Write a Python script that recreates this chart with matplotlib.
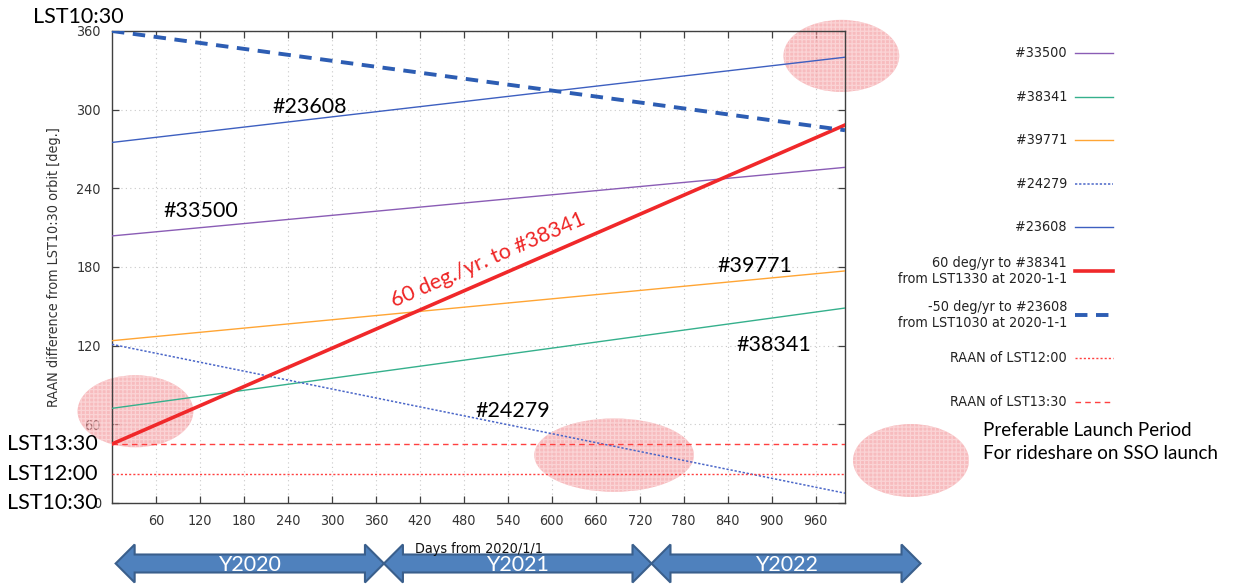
import numpy as np
import matplotlib
matplotlib.use('Agg')
import matplotlib.pyplot as plt
from matplotlib.patches import Ellipse, Polygon
from matplotlib.lines import Line2D
import matplotlib.transforms as mtransforms

# days from 2020/1/1 at both ends of the plotted span
DAYS = [0, 1000]

# RAAN difference from the LST10:30 orbit [deg], at DAYS[0] and DAYS[1]
SAT_NAMES = ['#33500', '#38341', '#39771', '#24279', '#23608']
SAT_RAAN_START = [203.7, 72.2, 123.8, 121.0, 275.0]
SAT_RAAN_END = [256.0, 148.7, 177.0, 7.5, 340.0]

# drift plans starting from LST13:30 / LST10:30
PLAN_LABELS = ['60 deg/yr to #38341\nfrom LST1330 at 2020-1-1',
               '-50 deg/yr to #23608\nfrom LST1030 at 2020-1-1']
PLAN_RAAN_START = [45.0, 360.0]
PLAN_RAAN_END = [288.3, 284.3]

# RAAN of fixed local solar times
LST_LABELS = ['RAAN of LST12:00', 'RAAN of LST13:30']
LST_RAAN = [22.5, 45.0]

# year spans under the time axis (days)
YEAR_NAMES = ['Y2020', 'Y2021', 'Y2022']
YEAR_EDGES = [5, 371, 736, 1103]

# preferable launch windows: centre day, centre RAAN, width (days), height (deg)
WINDOWS = [(32, 70, 158, 55), (685, 36.5, 218, 56), (995, 341, 158, 55)]

W, H = 1246, 584
fig = plt.figure(figsize=(W / 100, H / 100), dpi=100)
plt.rcParams['hatch.linewidth'] = 0.9


def fx(x):
    return x / W


def fy(y):
    return 1 - y / H


ax = fig.add_axes([fx(112), fy(503), fx(845) - fx(112), fy(31) - fy(503)])
ax.set_xlim(0, 1000)
ax.set_ylim(0, 360)

small_font = dict(family='DejaVu Sans', stretch='condensed', size=10.3)
big_font = dict(family=['Lato', 'DejaVu Sans'], size=15.5)
window_style = dict(facecolor='#f28f93', edgecolor='#fde4e5', hatch='++++', lw=0, alpha=0.6)

ax.set_xticks(np.arange(60, 1000, 60))
ax.set_yticks(np.arange(0, 361, 60))
ax.tick_params(direction='in', length=5, width=0.9, colors='#404040',
               top=True, right=True, pad=8)
for lab in ax.get_xticklabels() + ax.get_yticklabels():
    lab.set_fontfamily('DejaVu Sans')
    lab.set_fontstretch('condensed')
    lab.set_fontsize(10.3)
    lab.set_color('#333333')
ax.grid(True, color='#c8c8c8', linestyle=(0, (1, 3)), linewidth=0.8)
for sp in ax.spines.values():
    sp.set_color('#404040')
    sp.set_linewidth(1.0)

ax.set_ylabel('RAAN difference from LST10:30 orbit [deg.]', labelpad=11,
              color='#333333', **small_font)
ax.set_xlabel('Days from 2020/1/1', labelpad=10, color='#111111', **small_font)

# satellite RAAN drift
sat_styles = [
    dict(color='#8a5cb5', lw=1.0),
    dict(color='#35b08c', lw=1.0),
    dict(color='#ffa534', lw=1.0),
    dict(color='#4a66c8', lw=1.1, ls=(0, (1.5, 1.2))),
    dict(color='#3d5fc0', lw=1.0),
]
for s0, s1, st in zip(SAT_RAAN_START, SAT_RAAN_END, sat_styles):
    ax.plot(DAYS, [s0, s1], zorder=3, **st)

plan_styles = [
    dict(color='#f0282a', lw=2.6),
    dict(color='#2d5db3', lw=2.8, ls=(0, (3.2, 2.2))),
]
for p0, p1, st in zip(PLAN_RAAN_START, PLAN_RAAN_END, plan_styles):
    ax.plot(DAYS, [p0, p1], zorder=4, **st)

lst_styles = [
    dict(color='#ff4040', lw=1.0, ls=(0, (1.5, 1.5))),
    dict(color='#ff4040', lw=1.0, ls=(0, (4, 3))),
]
for r, st in zip(LST_RAAN, lst_styles):
    ax.axhline(r, zorder=3, **st)

# names next to each satellite line
label_pos = {'#23608': (269, 302), '#33500': (121, 223), '#39771': (877, 181),
             '#38341': (903, 120.5), '#24279': (547, 70)}
for name in SAT_NAMES:
    ax.text(*label_pos[name], name, ha='center', va='center', zorder=6, **big_font)

# rate note along the 60 deg/yr line
p_a = ax.transData.transform((DAYS[0], PLAN_RAAN_START[0]))
p_b = ax.transData.transform((DAYS[1], PLAN_RAAN_END[0]))
ang = np.degrees(np.arctan2(p_b[1] - p_a[1], p_b[0] - p_a[0]))
ax.text(513, 185, '60 deg./yr. to #38341', rotation=ang, rotation_mode='anchor',
        ha='center', va='center', color='#ee2424', zorder=6, **big_font)

# local solar time markers on the RAAN axis
yax = ax.get_yaxis_transform()
for txt, r in [('LST13:30', 45), ('LST12:00', 22.5), ('LST10:30', 0)]:
    ax.text(-0.02, r, txt, transform=yax, ha='right', va='center', clip_on=False,
            zorder=7, **big_font)
ax.text(-0.046, 370.5, 'LST10:30', transform=yax, ha='center', va='center',
        clip_on=False, zorder=7, **big_font)

# launch windows, under the lines and tick labels
for cx, cy, ew, eh in WINDOWS:
    ax.add_patch(Ellipse((cx, cy), ew, eh, zorder=2, clip_on=False, **window_style))

# year arrows below the time axis
bt = mtransforms.blended_transform_factory(ax.transData, fig.transFigure)
yc, shaft, head = fy(563.5), 9 / H, 19 / H
hl = 19 / 0.7333
for name, x0, x1 in zip(YEAR_NAMES, YEAR_EDGES[:-1], YEAR_EDGES[1:]):
    pts = [(x0, yc), (x0 + hl, yc + head), (x0 + hl, yc + shaft), (x1 - hl, yc + shaft),
           (x1 - hl, yc + head), (x1, yc), (x1 - hl, yc - head), (x1 - hl, yc - shaft),
           (x0 + hl, yc - shaft), (x0 + hl, yc - head)]
    ax.add_patch(Polygon(pts, closed=True, transform=bt, facecolor='#4f81bd',
                         edgecolor='#3a5f8c', lw=1.5, clip_on=False, zorder=1))
    ax.text((x0 + x1) / 2, fy(565), name, transform=bt, ha='center', va='center',
            color='white', clip_on=False, zorder=2, **big_font)

# key outside the plot, text right-aligned before each sample line
key_labels = SAT_NAMES + PLAN_LABELS + LST_LABELS
key_styles = sat_styles + plan_styles + lst_styles
for i, (lab, st) in enumerate(zip(key_labels, key_styles)):
    yk = fy(53 + 43.6 * i)
    fig.text(fx(1067), yk, lab, ha='right', va='center', ma='right',
             linespacing=1.2, color='#222222', **small_font)
    fig.add_artist(Line2D([fx(1075), fx(1113)], [yk, yk], transform=fig.transFigure, **st))

fig.add_artist(Ellipse((fx(911), fy(460.5)), fx(116), 73 / H, transform=fig.transFigure,
                       **window_style))
fig.text(fx(983), fy(442), 'Preferable Launch Period\nFor rideshare on SSO launch',
         ha='left', va='center', linespacing=1.45,
         family=['Lato', 'DejaVu Sans'], size=13.5)

fig.savefig('out.png', dpi=100)
